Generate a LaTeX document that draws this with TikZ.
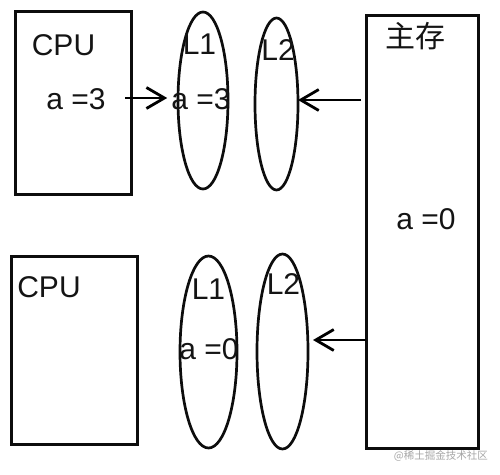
\documentclass[tikz,border=0pt]{standalone}
\usepackage{fontspec}
\setmainfont{Liberation Sans}
\newfontfamily\cjk{Noto Sans CJK SC}
\usetikzlibrary{shapes.geometric,arrows.meta}
\begin{document}
\begin{tikzpicture}[x=1pt,y=-1pt,
  box/.style={draw=black!95, line width=3pt, rectangle, inner sep=0pt, outer sep=0pt},
  ell/.style={draw=black!95, line width=2.7pt, ellipse, inner sep=0pt, outer sep=0pt},
  lbl/.style={inner sep=0pt, text=black!92, font=\fontsize{30}{35}\selectfont},
  arr/.style={line width=2.8pt, -{Straight Barb[length=18pt,width=21pt,line width=2.8pt]}}]
\useasboundingbox (0,0) rectangle (500,474);
% boxes
\node[box, minimum width=116pt, minimum height=183pt] (cpu1) at (73,102.5) {};
\node[box, minimum width=126pt, minimum height=188pt] (cpu2) at (74,350) {};
\node[box, minimum width=112pt, minimum height=433pt] (mem) at (422,231.5) {};
% ellipses
\node[ell, minimum width=50pt, minimum height=177pt] (l1a) at (203,100.5) {};
\node[ell, minimum width=43pt, minimum height=172pt] (l2a) at (276.5,104) {};
\node[ell, minimum width=57pt, minimum height=192pt] (l1b) at (208.5,352) {};
\node[ell, minimum width=51pt, minimum height=195pt] (l2b) at (282.5,351.5) {};
% labels
\node[lbl] (cpu1t) at (63.5,45.5) {CPU};
\node[lbl] (cpu1a) at (76,99) {a =3};
\node[lbl] (l1at) at (199.5,44) {L1};
\node[lbl] (l1aa) at (201,99) {a =3};
\node[lbl] (l2at) at (278,50) {L2};
\node[lbl, font=\cjk\fontsize{30}{35}\selectfont] (memt) at (415,36.5) {主存};
\node[lbl] (mema) at (426,219) {a =0};
\node[lbl] (cpu2t) at (49,287.5) {CPU};
\node[lbl] (l1bt) at (208.5,289) {L1};
\node[lbl] (l1ba) at (209,349.5) {a =0};
\node[lbl] (l2bt) at (283.5,284.5) {L2};
% arrows
\coordinate (s1) at (125,98);
\coordinate (s2) at (361,100);
\coordinate (s3) at (366,340);
\draw[arr] (s1) -- ([xshift=-4pt]l1aa.west |- s1);
\draw[arr] (s2) -- (l2a.east |- s2);
\draw[arr] (s3) -- ([xshift=5pt]l2b.east |- s3);
% watermark
\node[anchor=east, inner sep=0pt, text=black!35, font=\cjk\fontsize{10.5}{12}\selectfont] (wm) at (488,456) {@稀土掘金技术社区};
\end{tikzpicture}
\end{document}
